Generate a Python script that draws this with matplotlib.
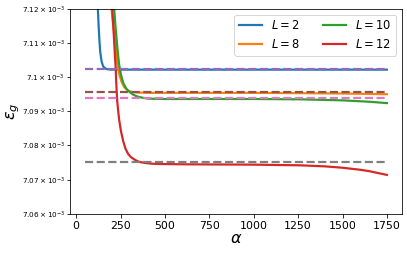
import numpy as np
import matplotlib
matplotlib.use('Agg')
import matplotlib.pyplot as plt
from matplotlib.ticker import FuncFormatter, FixedLocator, NullLocator

##################################################################
# Data (epsilon_g in units of 1e-3)
##################################################################
alpha_L2 = [50, 80, 100, 110, 116, 122, 126, 130, 135, 143, 152, 169, 192, 250,
            500, 1000, 1500, 1750]
eps_L2 = [7.26, 7.18, 7.150, 7.136, 7.127, 7.1200, 7.1153, 7.1114, 7.1075, 7.1046,
          7.1031, 7.1024, 7.1022, 7.1022, 7.1022, 7.1022, 7.1022, 7.1022]

alpha_L8 = [50, 120, 160, 185, 199, 208, 218, 225, 233, 244, 255, 270, 293, 320,
            349, 400, 500, 1000, 1262, 1500, 1750]
eps_L8 = [7.40, 7.24, 7.17, 7.135, 7.1200, 7.1155, 7.1114, 7.1074, 7.1036, 7.1005,
          7.0987, 7.0971, 7.0960, 7.0956, 7.0955, 7.0954, 7.0954, 7.0954, 7.0953,
          7.0952, 7.0950]

alpha_L10 = [50, 130, 170, 198, 214, 220, 227, 234, 242, 253, 265, 282, 302, 320,
             340, 370, 406, 500, 1000, 1262, 1500, 1650, 1750]
eps_L10 = [7.40, 7.24, 7.17, 7.135, 7.1200, 7.1156, 7.1114, 7.1073, 7.1036, 7.1005,
           7.0983, 7.0966, 7.0956, 7.0949, 7.0944, 7.0940, 7.0937, 7.0936, 7.0936,
           7.0935, 7.0932, 7.0928, 7.0924]

alpha_L12 = [50, 150, 185, 203, 211, 218, 222, 225, 228, 231, 236, 242, 252, 265,
             278, 293, 310, 331, 355, 387, 420, 462, 600, 1000, 1262, 1400, 1500,
             1600, 1650, 1750]
eps_L12 = [7.50, 7.22, 7.145, 7.1200, 7.1130, 7.1065, 7.1030, 7.0990, 7.0958,
           7.0930, 7.0903, 7.0875, 7.0842, 7.0812, 7.0790, 7.0775, 7.0765, 7.0758,
           7.0752, 7.0749, 7.0747, 7.0746, 7.0745, 7.0744, 7.0742, 7.0739, 7.0735,
           7.0729, 7.0725, 7.0714]

# reference levels (dashed), drawn from alpha=50 to 1750
ref_alpha = [50, 1750]
ref_levels = [7.1025, 7.0957, 7.0940, 7.0753]
ref_colors = ['tab:purple', 'tab:brown', 'tab:pink', 'tab:gray']

yticks = [7.06, 7.07, 7.08, 7.09, 7.10, 7.11, 7.12]
xticks = [0, 250, 500, 750, 1000, 1250, 1500, 1750]

##################################################################
# Plot figure
##################################################################
fig = plt.figure(figsize=(407 / 72, 254 / 72), dpi=72)
ax = fig.add_axes([0.172, 0.1575, 0.8157, 0.807])

curves = [(alpha_L2, eps_L2, '$L = 2$'), (alpha_L8, eps_L8, '$L = 8$'),
          (alpha_L10, eps_L10, '$L = 10$'), (alpha_L12, eps_L12, '$L = 12$')]
for a, e, lab in curves:
    ax.plot(a, np.array(e) * 1e-3, lw=2.2, label=lab)

for lev, col in zip(ref_levels, ref_colors):
    ax.plot(ref_alpha, [lev * 1e-3] * 2, '--', color=col, lw=2.2)

ax.set_yscale('log')
ax.set_ylim(7.06e-3, 7.12e-3)
ax.set_xlim(-35, 1835)
ax.yaxis.set_major_locator(FixedLocator([v * 1e-3 for v in yticks]))
ax.yaxis.set_minor_locator(NullLocator())
ax.yaxis.set_major_formatter(FuncFormatter(
    lambda y, pos: r'$%g\times10^{-3}$' % round(y * 1e3, 4)))
ax.set_xticks(xticks)
ax.tick_params(axis='x', labelsize=11)
ax.tick_params(axis='y', labelsize=7.2, pad=1.5)

ax.set_xlabel(r'$\alpha$', fontsize=16, labelpad=0)
ax.set_ylabel(r'$\epsilon_g$', fontsize=16, labelpad=0)

ax.legend(loc='upper right', ncol=2, fontsize=11.5)

plt.savefig('out.png', dpi=72)
